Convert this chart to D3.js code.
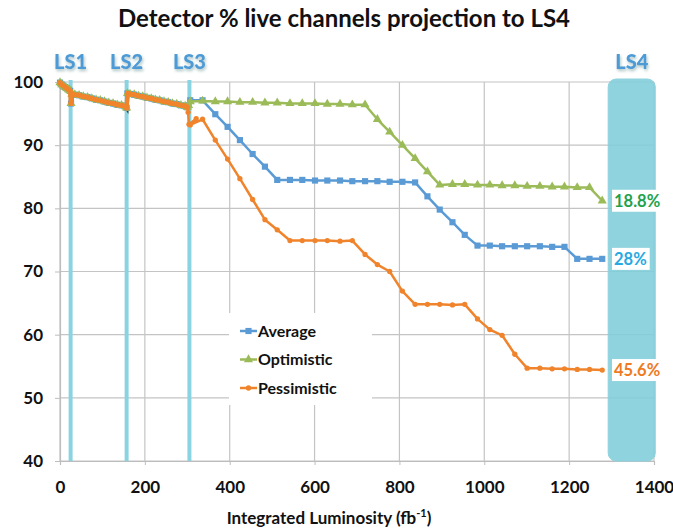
<!DOCTYPE html>
<html><head><meta charset="utf-8">
<script src="https://cdn.jsdelivr.net/npm/d3@7"></script>
<style>
body{margin:0;background:#fff;}
svg{display:block;font-family:Lato,"Open Sans",sans-serif;}
</style></head><body>
<svg id="chart" width="673" height="528"></svg>
<script>
// ---- data ----
const measuredLum = [0,4,8,12,16,20,24,26,28,35,45,55,65,75,85,95,105,115,125,135,145,155,157,159,165,175,185,195,205,215,225,235,245,255,265,275,285,295,300];
const measuredVal = [99.9,99.6,99.4,99.2,99.0,98.8,98.6,96.6,98.1,98.0,97.9,97.7,97.6,97.4,97.2,97.1,96.9,96.7,96.6,96.4,96.3,96.1,95.9,98.2,98.1,98.0,97.8,97.7,97.5,97.4,97.2,97.1,96.9,96.8,96.6,96.5,96.3,96.2,96.0];

const projLum = [307,336,366,395,424,454,483,512,542,571,601,630,660,689,719,748,777,807,837,866,895,925,954,984,1013,1042,1072,1101,1131,1160,1189,1219,1248,1278];
const averageVal = [97.1,97.1,94.9,92.9,90.8,88.6,86.6,84.5,84.5,84.5,84.4,84.4,84.4,84.3,84.3,84.3,84.2,84.2,84.1,81.9,79.8,77.8,75.8,74.1,74.1,74.0,74.0,74.0,74.0,73.9,73.9,72.0,72.0,72.0];
const optimisticVal = [96.9,97.0,96.9,96.9,96.8,96.8,96.7,96.7,96.6,96.6,96.6,96.5,96.5,96.4,96.4,94.1,92.1,90.0,87.9,85.8,83.7,83.8,83.8,83.7,83.7,83.6,83.6,83.5,83.5,83.4,83.4,83.3,83.3,81.2];
const pessimisticVal = [93.2,94.1,90.8,87.8,84.7,81.4,78.2,76.6,74.9,74.9,74.9,74.9,74.8,74.9,72.7,71.1,70.0,66.9,64.8,64.8,64.8,64.7,64.8,62.5,60.8,59.9,56.9,54.7,54.7,54.6,54.6,54.5,54.5,54.4];
// transition points at LS3
const avgLS3Lum = [303], avgLS3Val = [96.3];
const pesLS3Lum = [302,304,321], pesLS3Val = [95.2,93.3,94.2];

const xTicks = [0,200,400,600,800,1000,1200,1400];
const yTicks = [40,50,60,70,80,90,100];
const shutdowns = [{name:"LS1", lum:25},{name:"LS2", lum:157},{name:"LS3", lum:305}];
const ls4 = {name:"LS4", from:1292, to:1403};
const endLabels = [{text:"18.8%", val:81.2, color:"#1fa24c"},{text:"28%", val:72.0, color:"#27a9e1"},{text:"45.6%", val:54.4, color:"#ee7a23"}];
const seriesNames = ["Average","Optimistic","Pessimistic"];
const colors = {Average:"#5b9bd5", Optimistic:"#9bbb59", Pessimistic:"#f0842c"};

// ---- build series ----
function zipPts(l, v){ return l.map((d,i)=>({x:d,y:v[i]})); }
const measured = zipPts(measuredLum, measuredVal);
const series = {
  Average: measured.concat(zipPts(avgLS3Lum, avgLS3Val), zipPts(projLum, averageVal)),
  Optimistic: measured.concat(zipPts(avgLS3Lum, avgLS3Val), zipPts(projLum, optimisticVal)),
  Pessimistic: measured.concat(zipPts(pesLS3Lum, pesLS3Val), zipPts(projLum, pessimisticVal))
};

// ---- layout ----
const svg = d3.select("#chart");
const x = d3.scaleLinear().domain([0,1400]).range([60,654]);
const y = d3.scaleLinear().domain([40,100]).range([461,82]);

// title
svg.append("text").attr("x",344).attr("y",27).attr("text-anchor","middle")
  .attr("font-weight","bold").attr("font-size",24).attr("fill","#111")
  .text("Detector % live channels projection to LS4");

// gridlines
const grid = svg.append("g");
grid.selectAll(".hg").data(yTicks).join("line")
  .attr("x1",x(0)).attr("x2",x(1400)).attr("y1",d=>y(d)).attr("y2",d=>y(d))
  .attr("stroke","#c4c4c4").attr("stroke-width",1.2);
grid.selectAll(".vg").data(xTicks).join("line")
  .attr("x1",d=>x(d)).attr("x2",d=>x(d)).attr("y1",y(100)).attr("y2",y(40))
  .attr("stroke","#c4c4c4").attr("stroke-width",1.2);

// axes
const xAxis = svg.append("g").attr("transform",`translate(0,${y(40)})`)
  .call(d3.axisBottom(x).tickValues(xTicks).tickSize(4).tickPadding(16).tickFormat(d3.format("d")));
const yAxis = svg.append("g").attr("transform",`translate(${x(0)},0)`)
  .call(d3.axisLeft(y).tickValues(yTicks).tickSize(5).tickPadding(12).tickFormat(d3.format("d")));
[xAxis,yAxis].forEach(a=>{
  a.select(".domain").attr("stroke","#bdbdbd").attr("stroke-width",1.2);
  a.selectAll(".tick line").attr("stroke","#bdbdbd");
  a.selectAll("text").attr("font-family","Lato, sans-serif").attr("font-weight","bold").attr("font-size",17).attr("fill","#111");
});

// x axis title
const xt = svg.append("text").attr("x",329).attr("y",524).attr("text-anchor","middle")
  .attr("font-weight","bold").attr("font-size",17).attr("fill","#111");
xt.append("tspan").text("Integrated Luminosity (fb");
xt.append("tspan").attr("font-size",11).attr("dy",-7).text("-1");
xt.append("tspan").attr("dy",7).text(")");

// shutdown lines
svg.selectAll(".ls").data(shutdowns).join("line")
  .attr("x1",d=>x(d.lum)).attr("x2",d=>x(d.lum)).attr("y1",y(100)-2).attr("y2",y(40))
  .attr("stroke","#8ad4e2").attr("stroke-width",4);
// LS4 box
svg.append("rect").attr("x",x(ls4.from)).attr("y",y(100)-3)
  .attr("width",x(ls4.to)-x(ls4.from)).attr("height",y(40)-y(100)+3)
  .attr("rx",8).attr("fill","#7fcddb").attr("fill-opacity",0.88)
  .attr("stroke","#8fd3df").attr("stroke-width",1);

// LS labels
const defs = svg.append("defs");
const f = defs.append("filter").attr("id","glow").attr("x","-20%").attr("y","-20%").attr("width","140%").attr("height","140%");
f.append("feGaussianBlur").attr("in","SourceAlpha").attr("stdDeviation",1.5).attr("result","b");
f.append("feOffset").attr("in","b").attr("dx",0.5).attr("dy",1.5).attr("result","o");
f.append("feFlood").attr("flood-color","#8aa").attr("flood-opacity",0.7);
f.append("feComposite").attr("in2","o").attr("operator","in");
const fm = f.append("feMerge"); fm.append("feMergeNode"); fm.append("feMergeNode").attr("in","SourceGraphic");
svg.selectAll(".lsl").data(shutdowns.concat([{name:ls4.name, lum:(ls4.from+ls4.to)/2}])).join("text")
  .attr("x",d=>x(d.lum)).attr("y",69).attr("text-anchor","middle")
  .attr("font-weight","900").attr("font-size",20).attr("fill","#4e9bd6")
  .attr("filter","url(#glow)").text(d=>d.name);

// series
const line = d3.line().x(d=>x(d.x)).y(d=>y(d.y));
// dark measured trace underneath
svg.append("path").datum(measured).attr("d",line).attr("fill","none")
  .attr("stroke","#3d3d3d").attr("stroke-width",3).attr("transform","translate(0.5,1.5)");

const sym = {Average:d3.symbolSquare, Optimistic:d3.symbolTriangle, Pessimistic:d3.symbolCircle};
const symSize = {Average:38, Optimistic:36, Pessimistic:22};
seriesNames.forEach(name=>{
  const g = svg.append("g");
  g.append("path").datum(series[name]).attr("d",line).attr("fill","none")
    .attr("stroke",colors[name]).attr("stroke-width",2.5).attr("stroke-linejoin","round");
  g.selectAll("path.m").data(series[name]).join("path").attr("class","m")
    .attr("transform",d=>`translate(${x(d.x)},${y(d.y)})`)
    .attr("d",d3.symbol().type(sym[name]).size(symSize[name]))
    .attr("fill",colors[name]);
});
// thicker band for measured period on top (dense markers)
svg.append("path").datum(measured).attr("d",line).attr("fill","none")
  .attr("stroke",colors.Pessimistic).attr("stroke-width",4.5).attr("stroke-linejoin","round");

// end labels
endLabels.forEach(e=>{
  const t = svg.append("text").attr("x",614).attr("y",y(e.val)+6)
    .attr("font-weight","bold").attr("font-size",16.5).attr("fill",e.color).text(e.text);
  const bb = t.node().getBBox();
  svg.insert("rect", ()=>t.node()).attr("x",bb.x-2).attr("y",bb.y-1).attr("width",bb.width+5).attr("height",bb.height+2).attr("fill","#fff");
});

// legend
const lg = svg.append("g");
lg.append("rect").attr("x",229).attr("y",313).attr("width",143).attr("height",92).attr("fill","#fff");
seriesNames.forEach((name,i)=>{
  const yy = 335 + i*28.5;
  lg.append("line").attr("x1",240).attr("x2",257).attr("y1",yy-4).attr("y2",yy-4)
    .attr("stroke",colors[name]).attr("stroke-width",2.5);
  lg.append("path").attr("transform",`translate(248.5,${yy-4})`)
    .attr("d",d3.symbol().type(sym[name]).size(symSize[name])).attr("fill",colors[name]);
  lg.append("text").attr("x",258).attr("y",yy+1.5).attr("font-weight","bold").attr("font-size",16)
    .attr("fill","#111").text(name);
});
</script>
</body></html>
